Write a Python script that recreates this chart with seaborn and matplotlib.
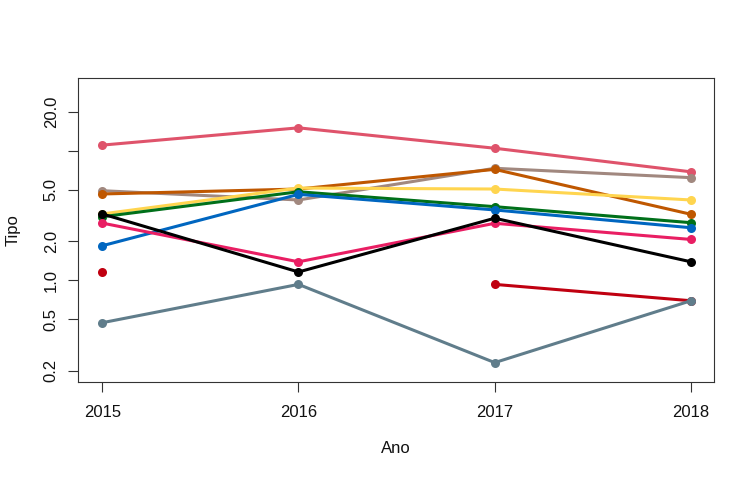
import numpy as np
import pandas as pd
import matplotlib
matplotlib.use("Agg")
import matplotlib.pyplot as plt
import seaborn as sns

years = [2015, 2016, 2017, 2018]

series_names = ["coral", "browngray", "orange", "yellow", "green", "blue",
                "magenta", "black", "red", "slate"]
coral = [11.1, 15.1, 10.5, 6.9]
browngray = [4.93, 4.18, 7.35, 6.22]
orange = [4.65, 5.08, 7.21, 3.24]
yellow = [3.26, 5.17, 5.08, 4.18]
green = [3.10, 4.84, 3.71, 2.79]
blue = [1.85, 4.62, 3.50, 2.55]
magenta = [2.77, 1.39, 2.76, 2.07]
black = [3.26, 1.16, 3.02, 1.39]
red = [1.16, np.nan, 0.93, 0.695]
slate = [0.47, 0.93, 0.231, 0.695]

colors = ["#DF536B", "#A1887F", "#BF5700", "#FFD54F", "#00701A", "#0066C0",
          "#E91E63", "#000000", "#C00010", "#607D8B"]

ytick_vals = [0.2, 0.5, 1.0, 2.0, 5.0, 10.0, 20.0]
ytick_labels = ["0.2", "0.5", "1.0", "2.0", "5.0", "", "20.0"]

values = [coral, browngray, orange, yellow, green, blue, magenta, black, red, slate]

rows = []
for name, vals in zip(series_names, values):
    seg = 0
    for yr, v in zip(years, vals):
        if v is None or (isinstance(v, float) and np.isnan(v)):
            seg += 1
            continue
        rows.append({"Ano": yr, "Tipo": v, "serie": name, "seg": f"{name}_{seg}"})
df = pd.DataFrame(rows)

sns.set_style("white")
plt.rcParams["font.family"] = ["Liberation Sans", "DejaVu Sans"]

fig = plt.figure(figsize=(7.55, 4.8), dpi=100)
ax = fig.add_axes([78.3 / 755, 1 - 381.7 / 480, (714.3 - 78.3) / 755, (381.7 - 78.3) / 480])

sns.lineplot(data=df, x="Ano", y="Tipo", hue="serie", units="seg", estimator=None,
             hue_order=series_names, palette=dict(zip(series_names, colors)),
             marker="o", markersize=6.5, markeredgewidth=0, linewidth=2.2,
             legend=False, ax=ax, sort=True)

ax.set_yscale("log")
ax.set_xlim(2015 - 0.122, 2018 + 0.119)
ax.set_ylim(10 ** (-0.784), 10 ** 1.562)
ax.set_xticks(years)
ax.set_xticklabels([str(y) for y in years])
ax.set_yticks(ytick_vals)
ax.set_yticklabels(ytick_labels)
ax.yaxis.set_minor_locator(matplotlib.ticker.NullLocator())

ax.tick_params(axis="both", which="major", direction="out", length=7, width=0.8,
               color="#333333", labelsize=12, pad=10, labelcolor="#111111",
               left=True, bottom=True)
ax.tick_params(axis="y", pad=7)
for lab in ax.get_yticklabels():
    lab.set_rotation(90)
    lab.set_va("center")

for sp in ax.spines.values():
    sp.set_visible(True)
    sp.set_color("#333333")
    sp.set_linewidth(0.8)

ax.set_xlabel("Ano", fontsize=12, color="#111111")
ax.set_ylabel("Tipo", fontsize=12, color="#111111")
ax.xaxis.set_label_coords(0.5, (381.7 - 441) / 303.4)
ax.yaxis.set_label_coords((21 - 78.3) / 636, 0.5)
ax.grid(False)

fig.savefig("out.png", dpi=100)
